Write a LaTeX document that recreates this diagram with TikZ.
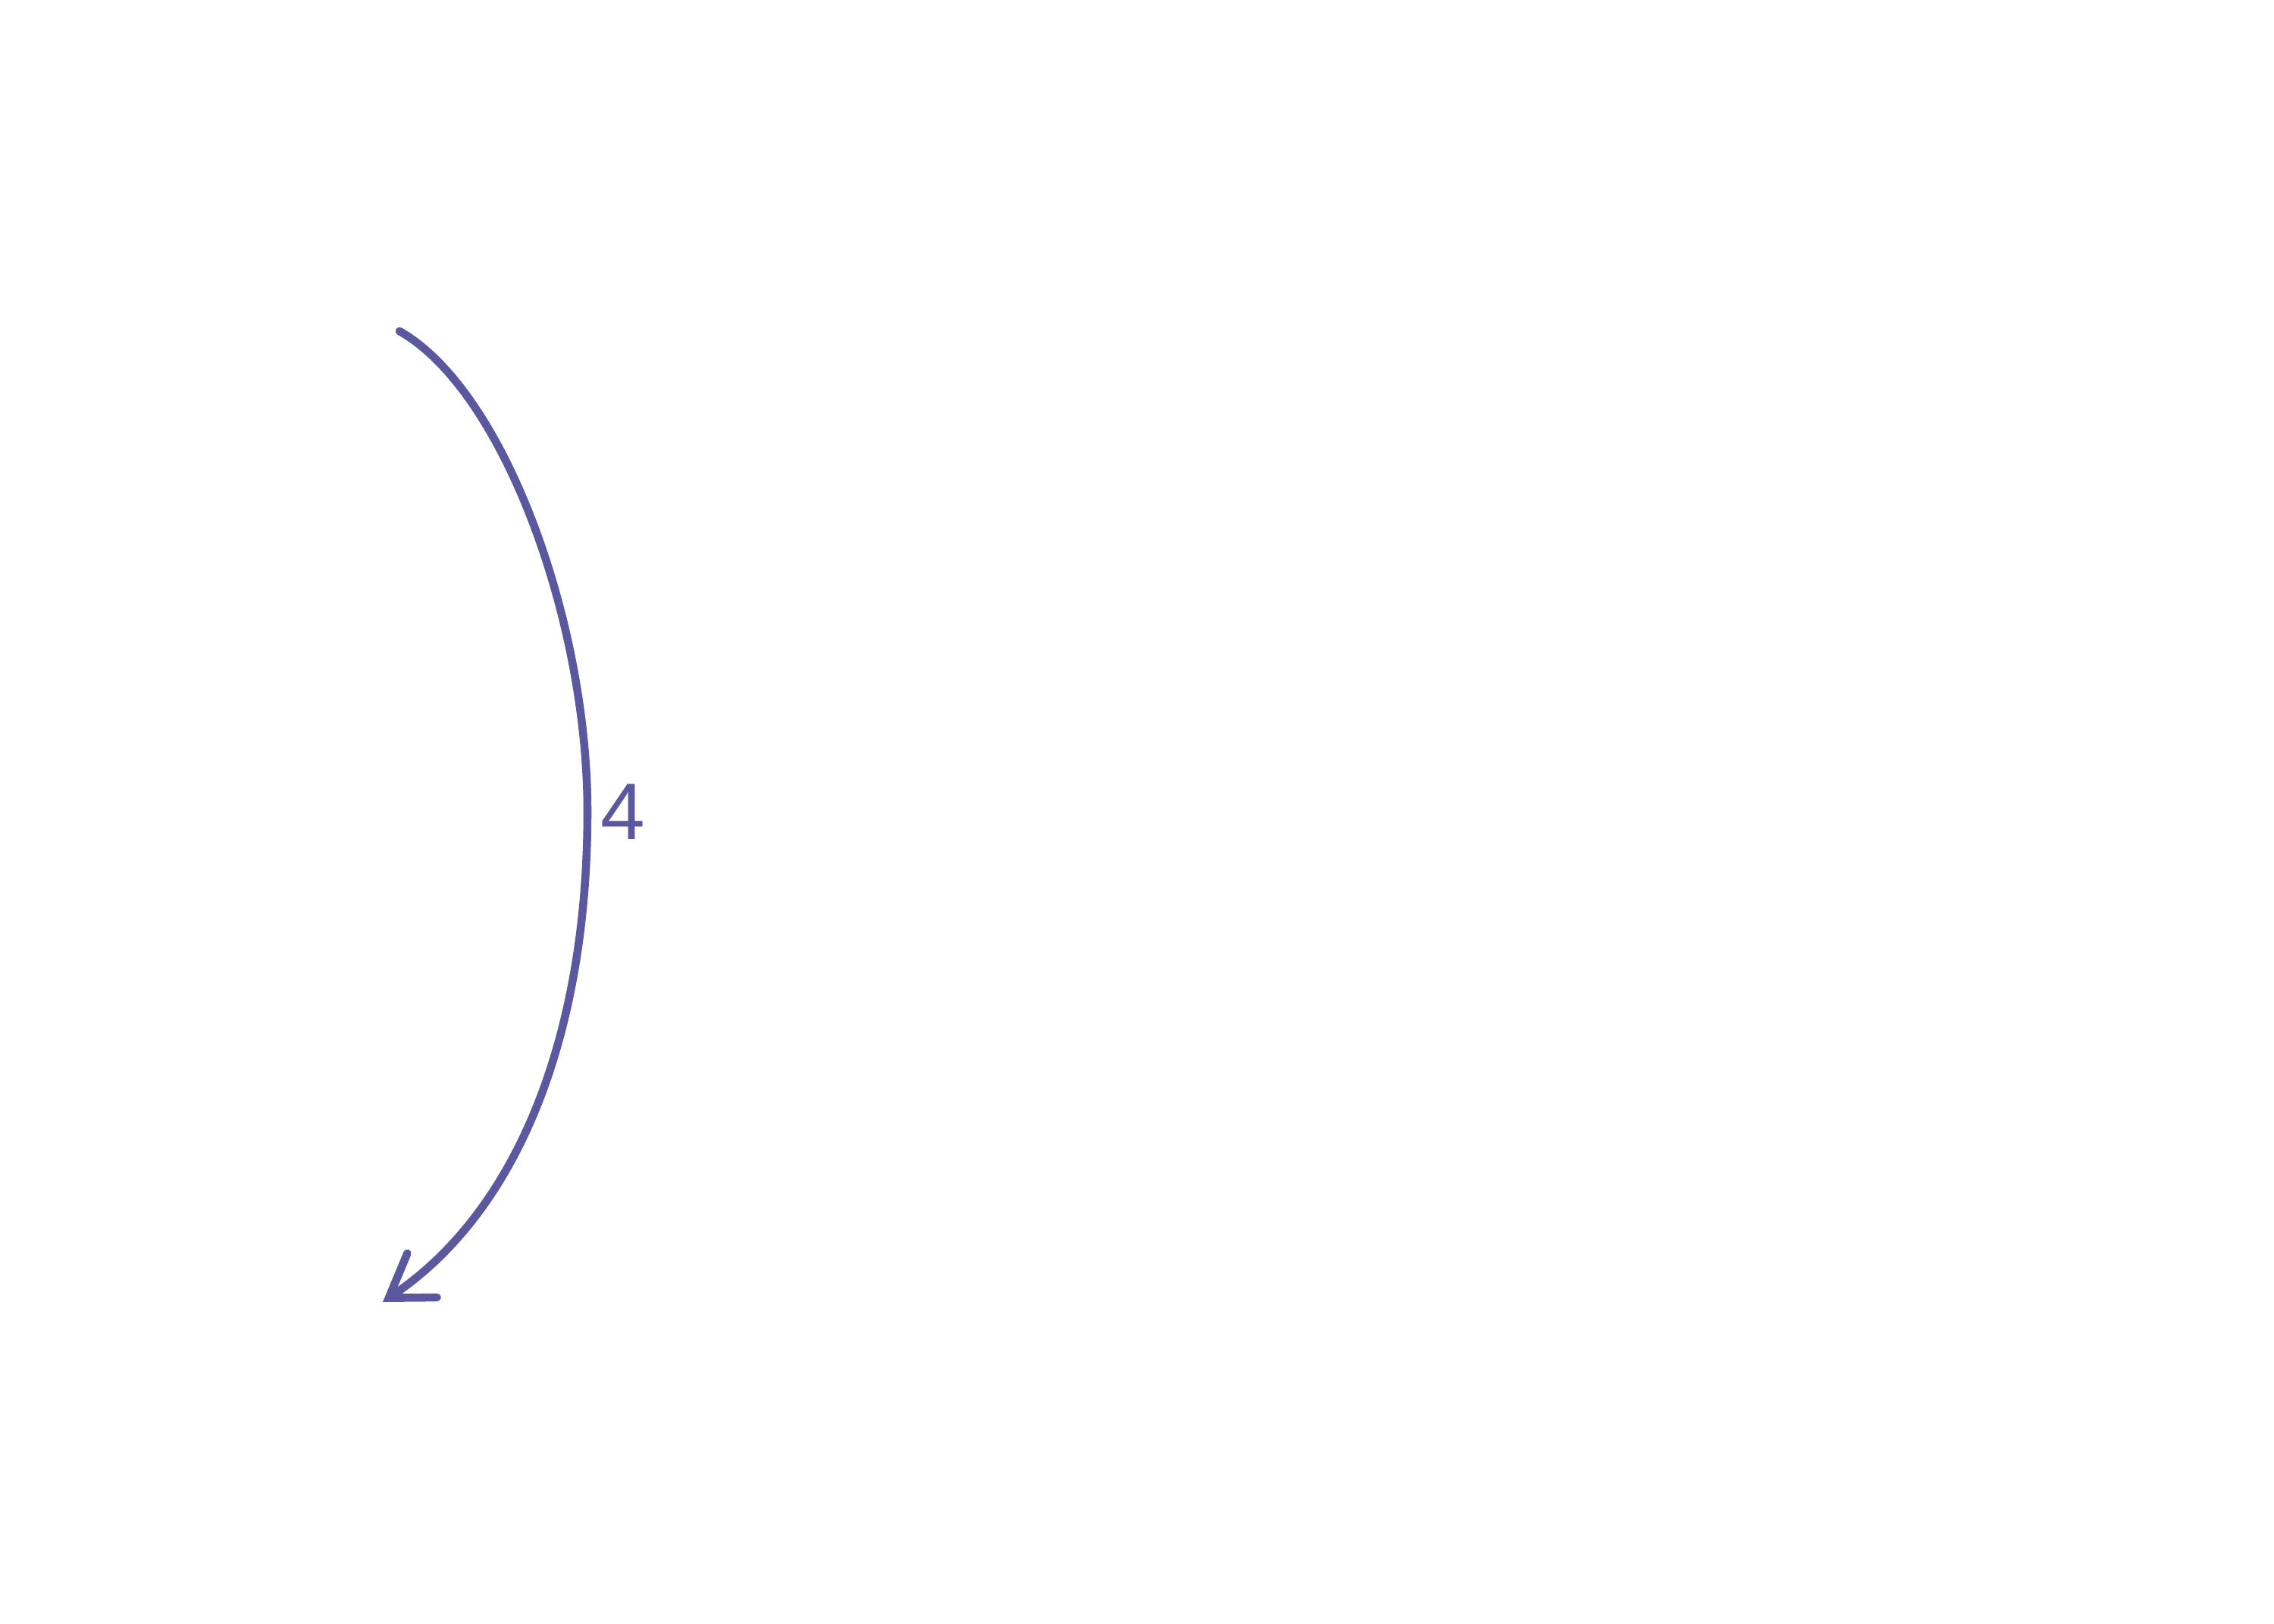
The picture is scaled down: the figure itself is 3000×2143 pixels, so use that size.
\documentclass[tikz,border=0pt]{standalone}
\usepackage{fontspec}
\setsansfont{Liberation Sans}
\usepackage{tikz}
\usetikzlibrary{arrows.meta,positioning}
\definecolor{penviolet}{HTML}{5B58A0}
\tikzset{
  >={Straight Barb[length=5.3mm,width=7mm,line cap=round]},
  sketch/.style={->,draw=penviolet,line width=3pt,line cap=round,line join=round},
  steplabel/.style={font=\sffamily\fontsize{30}{32}\selectfont,text=penviolet,inner sep=0pt}
}
\begin{document}
\begin{tikzpicture}[x=0.01cm,y=-0.01cm]
  \useasboundingbox (0,0) rectangle (3000,2143);
  \coordinate (from) at (527,437);
  \coordinate (bend) at (775,1071);
  \coordinate (to) at (505,1718);
  \node[steplabel] (count) at (822,1071) {4};

  \draw[sketch] (from) .. controls (665,515) and (775,820) .. (bend)
    .. controls (775,1345) and (695,1590) .. (to);
\end{tikzpicture}
\end{document}
